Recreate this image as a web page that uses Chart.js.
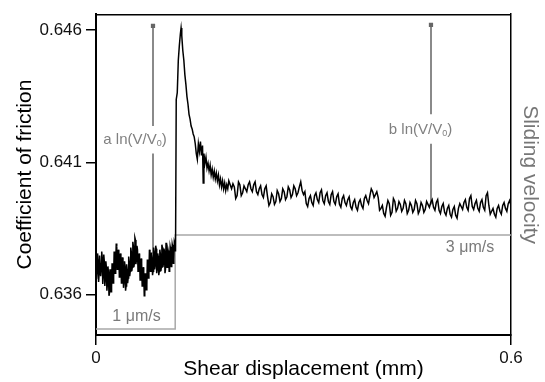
<!DOCTYPE html>
<html>
<head>
<meta charset="utf-8">
<script src="https://cdn.jsdelivr.net/npm/chart.js@4"></script>
<style>
  html, body { margin: 0; padding: 0; background: #fff; }
  #wrap { width: 545px; height: 382px; }
</style>
</head>
<body>
<div id="wrap"><canvas id="chart" width="545" height="382"></canvas></div>
<script>
// ─── Data ────────────────────────────────────────────────────────────────────

// slow slide (1 µm/s)
const dispSlow = [
  0, 0.0015, 0.003, 0.0045, 0.006, 0.0075, 0.009, 0.0105, 0.012, 0.0135,
  0.015, 0.0165, 0.018, 0.0195, 0.021, 0.0225, 0.024, 0.0255, 0.027, 0.0285,
  0.03, 0.0315, 0.033, 0.0345, 0.036, 0.0375, 0.039, 0.0405, 0.042, 0.0435,
  0.045, 0.0465, 0.048, 0.0495, 0.051, 0.0525, 0.054, 0.0555, 0.057, 0.0585,
  0.06, 0.0615, 0.063, 0.0645, 0.066, 0.0675, 0.069, 0.0705, 0.072, 0.0735,
  0.075, 0.0765, 0.078, 0.0795, 0.081, 0.0825, 0.084, 0.0855, 0.087, 0.0885,
  0.09, 0.0915, 0.093, 0.0945, 0.096, 0.0975, 0.099, 0.1005, 0.102, 0.1035,
  0.105, 0.1065, 0.108, 0.1095, 0.111, 0.1125, 0.114
];
const muSlow = [
  0.63719, 0.63689, 0.63733, 0.63678, 0.63719, 0.63696, 0.63741, 0.63670, 0.63726, 0.63659,
  0.63704, 0.63641, 0.63685, 0.63607, 0.63674, 0.63630, 0.63696, 0.63667, 0.63744, 0.63711,
  0.63781, 0.63719, 0.63756, 0.63689, 0.63733, 0.63667, 0.63719, 0.63648, 0.63707, 0.63633,
  0.63696, 0.63663, 0.63726, 0.63689, 0.63763, 0.63704, 0.63785, 0.63719, 0.63807, 0.63733,
  0.63770, 0.63704, 0.63741, 0.63674, 0.63719, 0.63652, 0.63689, 0.63607, 0.63667, 0.63637,
  0.63719, 0.63681, 0.63756, 0.63704, 0.63741, 0.63689, 0.63763, 0.63711, 0.63774, 0.63696,
  0.63744, 0.63689, 0.63756, 0.63704, 0.63778, 0.63719, 0.63763, 0.63696, 0.63785, 0.63719,
  0.63756, 0.63704, 0.63770, 0.63719, 0.63778, 0.63733, 0.63793
];
// in-between samples of the slow slide
const dispSlowMid = [
  0.00075, 0.00225, 0.00375, 0.00525, 0.00675, 0.00825, 0.00975, 0.01125, 0.01275, 0.01425,
  0.01575, 0.01725, 0.01875, 0.02025, 0.02175, 0.02325, 0.02475, 0.02625, 0.02775, 0.02925,
  0.03075, 0.03225, 0.03375, 0.03525, 0.03675, 0.03825, 0.03975, 0.04125, 0.04275, 0.04425,
  0.04575, 0.04725, 0.04875, 0.05025, 0.05175, 0.05325, 0.05475, 0.05625, 0.05775, 0.05925,
  0.06075, 0.06225, 0.06375, 0.06525, 0.06675, 0.06825, 0.06975, 0.07125, 0.07275, 0.07425,
  0.07575, 0.07725, 0.07875, 0.08025, 0.08175, 0.08325, 0.08475, 0.08625, 0.08775, 0.08925,
  0.09075, 0.09225, 0.09375, 0.09525, 0.09675, 0.09825, 0.09975, 0.10125, 0.10275, 0.10425,
  0.10575, 0.10725, 0.10875, 0.11025, 0.11175, 0.11325
];
const muSlowMid = [
  0.63659, 0.63756, 0.63648, 0.63748, 0.63670, 0.63763, 0.63641, 0.63752, 0.63633, 0.63726,
  0.63615, 0.63707, 0.63596, 0.63696, 0.63611, 0.63719, 0.63644, 0.63763, 0.63681, 0.63793,
  0.63696, 0.63770, 0.63667, 0.63756, 0.63644, 0.63741, 0.63626, 0.63726, 0.63615, 0.63715,
  0.63644, 0.63744, 0.63670, 0.63778, 0.63689, 0.63800, 0.63704, 0.63815, 0.63715, 0.63785,
  0.63689, 0.63756, 0.63656, 0.63737, 0.63633, 0.63704, 0.63596, 0.63681, 0.63619, 0.63733,
  0.63663, 0.63770, 0.63689, 0.63759, 0.63674, 0.63778, 0.63696, 0.63785, 0.63681, 0.63756,
  0.63674, 0.63770, 0.63689, 0.63789, 0.63704, 0.63774, 0.63681, 0.63796, 0.63704, 0.63767,
  0.63689, 0.63781, 0.63707, 0.63789, 0.63719, 0.63800
];

// velocity step and transient peak
const dispJump = [
  0.1150, 0.1160, 0.1175, 0.1190, 0.1205, 0.1220, 0.1230, 0.1240, 0.1255, 0.1270,
  0.1285, 0.1300, 0.1315, 0.1330, 0.1345, 0.1360, 0.1375, 0.1390, 0.1405, 0.1420,
  0.1435, 0.1450, 0.1465, 0.1480, 0.1495, 0.1510, 0.1525, 0.1540, 0.1550, 0.1560,
  0.1575, 0.1590, 0.1605, 0.1620, 0.1635, 0.1650, 0.1665, 0.1680, 0.1695, 0.1710,
  0.1725, 0.1740, 0.1755, 0.1770, 0.1785, 0.1800, 0.1815, 0.1830, 0.1845, 0.1860,
  0.1875, 0.1890, 0.1905, 0.1920
];
const muJump = [
  0.63763, 0.64337, 0.64363, 0.64485, 0.64541, 0.64585, 0.64607, 0.64578, 0.64522, 0.64485,
  0.64430, 0.64393, 0.64348, 0.64319, 0.64281, 0.64263, 0.64237, 0.64226, 0.64207, 0.64196,
  0.64170, 0.64133, 0.64111, 0.64170, 0.64141, 0.64178, 0.64126, 0.64163, 0.64022, 0.64133,
  0.64096, 0.64119, 0.64078, 0.64096, 0.64067, 0.64089, 0.64052, 0.64074, 0.64044, 0.64067,
  0.64037, 0.64059, 0.64030, 0.64052, 0.64015, 0.64037, 0.64007, 0.64030, 0.64000, 0.64022,
  0.63993, 0.64015, 0.64000, 0.64030
];

// steady state (3 µm/s)
const dispFast = [
  0.196, 0.200, 0.204, 0.208, 0.212, 0.216, 0.220, 0.224, 0.228, 0.232,
  0.236, 0.240, 0.244, 0.248, 0.252, 0.256, 0.260, 0.264, 0.268, 0.272,
  0.276, 0.280, 0.284, 0.288, 0.292, 0.296, 0.300, 0.304, 0.308, 0.312,
  0.316, 0.320, 0.324, 0.328, 0.332, 0.336, 0.340, 0.344, 0.348, 0.352,
  0.356, 0.360, 0.364, 0.368, 0.372, 0.376, 0.380, 0.384, 0.388, 0.392,
  0.396, 0.400, 0.404, 0.408, 0.412, 0.416, 0.420, 0.424, 0.428, 0.432,
  0.436, 0.440, 0.444, 0.448, 0.452, 0.456, 0.460, 0.464, 0.468, 0.472,
  0.476, 0.480, 0.484, 0.488, 0.492, 0.496, 0.500, 0.504, 0.508, 0.512,
  0.516, 0.520, 0.524, 0.528, 0.532, 0.536, 0.540, 0.544, 0.548, 0.552,
  0.556, 0.560, 0.564, 0.568, 0.572, 0.576, 0.580, 0.584, 0.588, 0.592,
  0.596, 0.600
];
const muFast = [
  0.64000, 0.64007, 0.63974, 0.64015, 0.63985, 0.64000, 0.64015, 0.64000, 0.64015, 0.63989,
  0.64000, 0.63978, 0.64000, 0.63970, 0.63948, 0.63970, 0.63952, 0.63981, 0.63963, 0.63989,
  0.63970, 0.63996, 0.63978, 0.64000, 0.63985, 0.64026, 0.63978, 0.63944, 0.63963, 0.63948,
  0.63974, 0.63959, 0.63985, 0.63956, 0.63974, 0.63952, 0.63978, 0.63952, 0.63970, 0.63941,
  0.63963, 0.63948, 0.63959, 0.63933, 0.63948, 0.63930, 0.63948, 0.63937, 0.63963, 0.63956,
  0.63974, 0.63989, 0.63978, 0.63967, 0.63926, 0.63907, 0.63930, 0.63944, 0.63911, 0.63952,
  0.63926, 0.63941, 0.63926, 0.63944, 0.63919, 0.63937, 0.63922, 0.63944, 0.63919, 0.63937,
  0.63922, 0.63941, 0.63948, 0.63930, 0.63948, 0.63919, 0.63933, 0.63911, 0.63926, 0.63904,
  0.63922, 0.63900, 0.63926, 0.63933, 0.63948, 0.63930, 0.63963, 0.63933, 0.63944, 0.63926,
  0.63948, 0.63930, 0.63974, 0.63937, 0.63915, 0.63904, 0.63926, 0.63915, 0.63937, 0.63926,
  0.63944, 0.63937
];
// in-between samples of the steady state
const dispFastMid = [
  0.198, 0.202, 0.206, 0.210, 0.214, 0.218, 0.222, 0.226, 0.230, 0.234,
  0.238, 0.242, 0.246, 0.250, 0.254, 0.258, 0.262, 0.266, 0.270, 0.274,
  0.278, 0.282, 0.286, 0.290, 0.294, 0.298, 0.302, 0.306, 0.310, 0.314,
  0.318, 0.322, 0.326, 0.330, 0.334, 0.338, 0.342, 0.346, 0.350, 0.354,
  0.358, 0.362, 0.366, 0.370, 0.374, 0.378, 0.382, 0.386, 0.390, 0.394,
  0.398, 0.402, 0.406, 0.410, 0.414, 0.418, 0.422, 0.426, 0.430, 0.434,
  0.438, 0.442, 0.446, 0.450, 0.454, 0.458, 0.462, 0.466, 0.470, 0.474,
  0.478, 0.482, 0.486, 0.490, 0.494, 0.498, 0.502, 0.506, 0.510, 0.514,
  0.518, 0.522, 0.526, 0.530, 0.534, 0.538, 0.542, 0.546, 0.550, 0.554,
  0.558, 0.562, 0.566, 0.570, 0.574, 0.578, 0.582, 0.586, 0.590, 0.594,
  0.598
];
const muFastMid = [
  0.64019, 0.63963, 0.64026, 0.63974, 0.64011, 0.63989, 0.64026, 0.63989, 0.64026, 0.63978,
  0.64011, 0.63967, 0.64011, 0.63937, 0.63981, 0.63941, 0.63993, 0.63952, 0.64000, 0.63959,
  0.64007, 0.63967, 0.64011, 0.63974, 0.64007, 0.63993, 0.63989, 0.63933, 0.63974, 0.63937,
  0.63985, 0.63948, 0.63996, 0.63944, 0.63985, 0.63941, 0.63989, 0.63941, 0.63981, 0.63930,
  0.63974, 0.63937, 0.63970, 0.63922, 0.63959, 0.63919, 0.63959, 0.63926, 0.63974, 0.63944,
  0.64000, 0.63967, 0.63989, 0.63919, 0.63937, 0.63896, 0.63956, 0.63900, 0.63963, 0.63915,
  0.63952, 0.63915, 0.63956, 0.63907, 0.63948, 0.63911, 0.63956, 0.63907, 0.63948, 0.63911,
  0.63952, 0.63930, 0.63959, 0.63919, 0.63959, 0.63907, 0.63944, 0.63900, 0.63937, 0.63893,
  0.63933, 0.63889, 0.63944, 0.63922, 0.63959, 0.63919, 0.63974, 0.63922, 0.63956, 0.63915,
  0.63959, 0.63919, 0.63985, 0.63904, 0.63926, 0.63893, 0.63937, 0.63904, 0.63948, 0.63915,
  0.63956
];

// imposed sliding velocity (µm/s)
const velDisp = [0, 0.1145, 0.1145, 0.6];
const velocity = [1, 1, 3, 3];

// a ln(V/V0) and b ln(V/V0) markers (null = gap for the label)
const arrowADisp = [0.0824, 0.0824, 0.0824, 0.0824, 0.0824];
const arrowAMu = [0.64615, 0.64237, null, 0.64133, 0.63756];
const arrowBDisp = [0.4843, 0.4843, 0.4843, 0.4843, 0.4843];
const arrowBMu = [0.64619, 0.64281, null, 0.64170, 0.63941];

const lnLabels = ['a', 'b'];
const lnLabelDisp = [0.0564, 0.4692];
const lnLabelMu = [0.64185, 0.64222];

const velLabels = ['1 \u03bcm/s', '3 \u03bcm/s'];
const velLabelDisp = [0.0586, 0.5407];
const velLabelVal = [1.26, 2.73];

const xTicks = [0, 0.6];
const yTicks = [0.636, 0.641, 0.646];

// ─── Chart ───────────────────────────────────────────────────────────────────

const FONT = '"Liberation Sans", Arial, Helvetica, sans-serif';
const pts = (xs, ys) => xs.map((x, i) => ({ x, y: ys[i] }));

const friction = [
  ...pts(dispSlow, muSlow), ...pts(dispSlowMid, muSlowMid),
  ...pts(dispJump, muJump),
  ...pts(dispFast, muFast), ...pts(dispFastMid, muFastMid),
].sort((a, b) => a.x - b.x);

const frame = {
  id: 'frame',
  afterDatasetsDraw(chart) {
    const { ctx, chartArea: a, scales } = chart;
    ctx.save();
    // top border
    ctx.strokeStyle = '#000';
    ctx.lineWidth = 1.5;
    ctx.beginPath();
    ctx.moveTo(a.left, a.top + 0.5);
    ctx.lineTo(a.right, a.top + 0.5);
    ctx.stroke();

    // ln(V/V0) labels
    ctx.fillStyle = '#808080';
    ctx.textBaseline = 'middle';
    ctx.textAlign = 'left';
    lnLabels.forEach((p, i) => {
      const x = scales.x.getPixelForValue(lnLabelDisp[i]);
      const y = scales.y.getPixelForValue(lnLabelMu[i]);
      const main = p + ' ln(V/V';
      ctx.font = `15px ${FONT}`;
      const w1 = ctx.measureText(main).width;
      const w3 = ctx.measureText(')').width;
      ctx.font = `9px ${FONT}`;
      const w2 = ctx.measureText('0').width;
      const cx = x - (w1 + w2 + w3) / 2;
      ctx.font = `15px ${FONT}`;
      ctx.fillText(main, cx, y);
      ctx.font = `9px ${FONT}`;
      ctx.fillText('0', cx + w1, y + 4);
      ctx.font = `15px ${FONT}`;
      ctx.fillText(')', cx + w1 + w2, y);
    });

    // velocity labels
    ctx.font = `16px ${FONT}`;
    ctx.textAlign = 'center';
    ctx.fillStyle = '#7a7a7a';
    velLabels.forEach((t, i) => {
      ctx.fillText(t, scales.x.getPixelForValue(velLabelDisp[i]), scales.v.getPixelForValue(velLabelVal[i]));
    });
    ctx.restore();
  },
};

const arrowStyle = {
  borderColor: '#8a8a8a',
  backgroundColor: '#666',
  borderWidth: 2,
  spanGaps: false,
  pointStyle: 'rect',
  pointRadius: ctx => (ctx.dataIndex === 0 ? 3 : 0),
  pointBorderWidth: 0,
  yAxisID: 'y',
};

new Chart(document.getElementById('chart'), {
  type: 'line',
  data: {
    datasets: [
      {
        label: 'Coefficient of friction',
        data: friction,
        borderColor: '#000',
        borderWidth: 1.5,
        borderJoinStyle: 'miter',
        pointRadius: 0,
        tension: 0,
        yAxisID: 'y',
      },
      { label: 'a', data: pts(arrowADisp, arrowAMu), ...arrowStyle },
      { label: 'b', data: pts(arrowBDisp, arrowBMu), ...arrowStyle },
      {
        label: 'Sliding velocity',
        data: pts(velDisp, velocity),
        borderColor: '#a8a8a8',
        borderWidth: 1.5,
        pointRadius: 0,
        tension: 0,
        yAxisID: 'v',
      },
    ],
  },
  options: {
    responsive: false,
    devicePixelRatio: 1,
    animation: false,
    layout: { padding: { top: 8, left: 0, right: 0, bottom: 0 } },
    plugins: { legend: { display: false }, tooltip: { enabled: false } },
    scales: {
      x: {
        type: 'linear',
        position: 'bottom',
        min: 0,
        max: 0.6,
        afterBuildTicks: s => { s.ticks = xTicks.map(v => ({ value: v })); },
        afterFit: s => { s.height = 47; },
        ticks: {
          callback: v => String(v),
          font: { family: FONT, size: 17 },
          color: '#111',
          padding: 3,
          maxRotation: 0,
          autoSkip: false,
        },
        grid: { drawOnChartArea: false, tickLength: 10, color: '#000', lineWidth: 1.5 },
        border: { color: '#000', width: 2 },
        title: {
          display: true,
          text: 'Shear displacement (mm)',
          font: { family: FONT, size: 21, lineHeight: 1 },
          color: '#000',
          padding: { top: 0, bottom: 2 },
        },
      },
      y: {
        position: 'left',
        min: 0.63448,
        max: 0.64659,
        afterBuildTicks: s => { s.ticks = yTicks.map(v => ({ value: v })); },
        afterFit: s => { s.width = 96; },
        ticks: {
          callback: v => v.toFixed(3),
          font: { family: FONT, size: 17 },
          color: '#111',
          padding: 4,
        },
        grid: { drawOnChartArea: false, tickLength: 10, color: '#000', lineWidth: 1.5 },
        border: { color: '#000', width: 2 },
        title: {
          display: true,
          text: 'Coefficient of friction',
          font: { family: FONT, size: 21, lineHeight: 1 },
          color: '#000',
          padding: { top: 15, bottom: 0 },
        },
      },
      v: {
        position: 'right',
        min: 0.875,
        max: 7.6875,
        afterFit: s => { s.width = 34; },
        ticks: { display: false },
        grid: { display: false, drawOnChartArea: false },
        border: { display: true, color: '#000', width: 1.5 },
        title: {
          display: true,
          text: 'Sliding velocity',
          font: { family: FONT, size: 21, lineHeight: 1 },
          color: '#777',
          padding: { top: 5, bottom: 0 },
        },
      },
    },
  },
  plugins: [frame],
});
</script>
</body>
</html>
